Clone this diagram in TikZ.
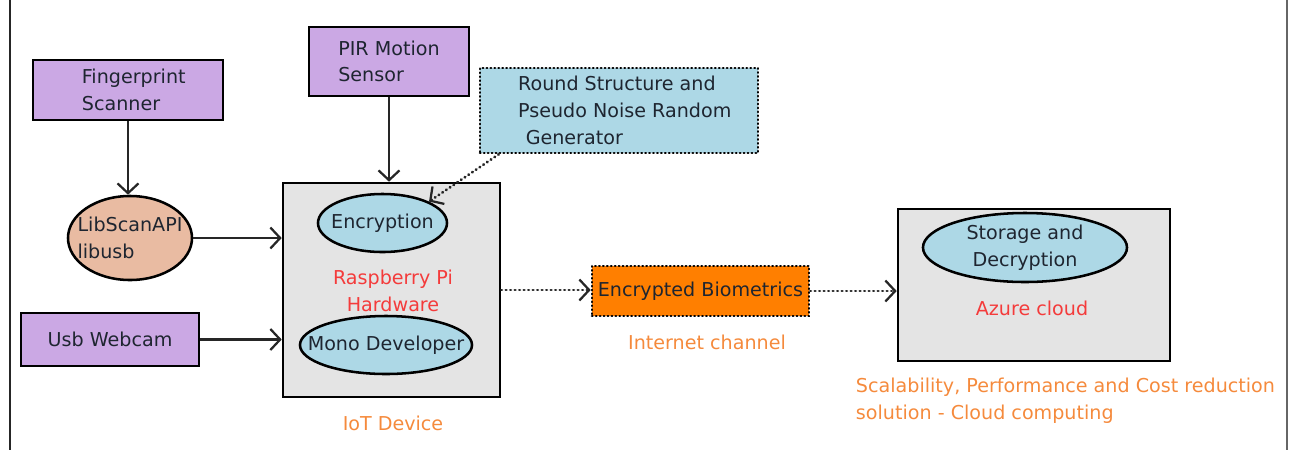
\documentclass[tikz,border=0pt]{standalone}
\usepackage{fontspec}
\setmainfont{DejaVu Sans}
\usepackage{xcolor}
\usepackage{tikz}
\usetikzlibrary{calc,arrows.meta,shapes.geometric}
\definecolor{lilac}{HTML}{CBA8E4}
\definecolor{skyblue}{HTML}{ADD8E6}
\definecolor{peach}{HTML}{E9BBA2}
\definecolor{panel}{HTML}{E4E4E4}
\definecolor{bioOrange}{HTML}{FF7F00}
\definecolor{hwRed}{HTML}{F43B3B}
\definecolor{noteOrange}{HTML}{F58A3C}
\definecolor{ink}{HTML}{1E2530}
\tikzset{
  baseFont/.style={font=\fontsize{13.6}{19}\selectfont, text=ink},
  devBox/.style={baseFont, draw=black, line width=1.8pt, fill=lilac, align=left, inner sep=2pt},
  dotBox/.style={baseFont, draw=black, line width=1.8pt, line cap=round, dash pattern=on 0.4pt off 2.4pt, align=left, inner sep=2pt},
  panelBox/.style={draw=black, line width=1.8pt, fill=panel, inner sep=0pt},
  blob/.style={ellipse, draw=black, line width=1.8pt, fill=skyblue, inner sep=0pt},
  inLbl/.style={baseFont, align=center},
  redLbl/.style={baseFont, text=hwRed, align=center},
  orangeLbl/.style={baseFont, text=noteOrange, align=left},
  feed/.style={draw=black!85, line width=1.6pt, -{Straight Barb[length=7pt,width=15pt,line width=1.6pt]}},
  dotFeed/.style={feed, line width=2pt, line cap=round, dash pattern=on 0.4pt off 2.8pt},
}

\begin{document}
\begin{tikzpicture}[x=0.025cm, y=-0.025cm]
  \useasboundingbox (0,0) rectangle (1290,450);
  \draw[black!85, line width=1.6pt] (10,0) -- (10,450);
  \draw[black!60, line width=1.2pt] (1287,0) -- (1287,450);

  % sensors
  \node[devBox, minimum width=4.75cm, minimum height=1.5cm] (fpScan) at (128,90) {\hspace{0.6em}Fingerprint\\\hspace{0.6em}Scanner};
  \node[devBox, minimum width=4cm, minimum height=1.725cm] (pirSens) at (389,61.5) {PIR Motion\\Sensor};
  \node[devBox, minimum width=4.45cm, minimum height=1.325cm] (webcam) at (110,339.5) {Usb Webcam};
  \node[dotBox, fill=skyblue, minimum width=6.95cm, minimum height=2.125cm] (rsGen) at (619,110.5)
    {\hspace{0.6em}Round Structure and\\\hspace{0.6em}Pseudo Noise Random\\\hspace{1.0em}Generator};
  \node[blob, fill=peach, minimum width=3.1cm, minimum height=2.1cm,
    label={[baseFont, align=left]center:LibScanAPI\\libusb}] (libScan) at (130,238) {};

  % IoT device
  \node[panelBox, minimum width=5.425cm, minimum height=5.35cm] (iotDev) at (391.5,290) {};
  \node[blob, minimum width=3.225cm, minimum height=1.45cm, label={[inLbl]center:Encryption}] (encr) at (382.5,223) {};
  \node[redLbl] (rpiLbl) at (393,291) {Raspberry Pi\\Hardware};
  \node[blob, minimum width=4.3cm, minimum height=1.45cm, label={[inLbl]center:Mono Developer}] (mono) at (386,345) {};
  \node[orangeLbl] (iotLbl) at (393,423) {IoT Device};

  % channel
  \node[dotBox, fill=bioOrange, minimum width=5.425cm, minimum height=1.25cm] (encBio) at (700.5,291) {Encrypted Biometrics};
  \node[orangeLbl] (netLbl) at (707,342) {Internet channel};

  % cloud
  \node[panelBox, minimum width=6.8cm, minimum height=3.8cm] (azure) at (1034,285) {};
  \node[blob, minimum width=5.1cm, minimum height=1.725cm, label={[inLbl]center:Storage and\\Decryption}] (storDec) at (1025,247.5) {};
  \node[redLbl] (azLbl) at (1032,308) {Azure cloud};
  \node[orangeLbl, anchor=west] (scalLbl) at (851,401) {Scalability, Performance and Cost reduction\\solution - Cloud computing};

  \draw[feed] (fpScan.south) -- (fpScan.south |- libScan.north);
  \draw[feed] (pirSens.south) -- (pirSens.south |- iotDev.north);
  \draw[feed] (libScan.east) -- (libScan.east -| iotDev.west);
  \draw[feed] (webcam.east) -- (webcam.east -| iotDev.west);
  \draw[dotFeed] ([xshift=0.5cm]rsGen.south west) -- (encr.north east);
  \draw[dotFeed] (iotDev.east) -- (iotDev.east -| encBio.west);
  \draw[dotFeed] (encBio.east) -- (encBio.east -| azure.west);
\end{tikzpicture}
\end{document}
